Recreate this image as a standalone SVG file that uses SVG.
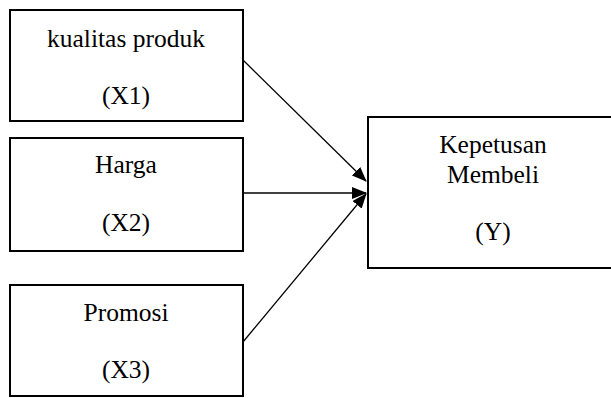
<svg xmlns="http://www.w3.org/2000/svg" width="611" height="398" viewBox="0 0 611 398">
<style>
.box{fill:#fff;stroke:#000;stroke-width:2}
.t{font-family:"Liberation Serif",serif;font-size:25.5px;fill:#000;text-anchor:middle}
.c{stroke:#000;stroke-width:1.3;fill:none}
</style>
<defs>
<marker id="ah" markerWidth="15" markerHeight="12" refX="14" refY="6" orient="auto" markerUnits="userSpaceOnUse">
<path d="M0,0 L15,6 L0,12 Z" fill="#000"/>
</marker>
</defs>
<g id="x1">
<rect class="box" x="10" y="10" width="233" height="111"/>
<text class="t" x="126" y="47">kualitas produk</text>
<text class="t" x="126" y="104">(X1)</text>
</g>
<g id="x2">
<rect class="box" x="10" y="138" width="233" height="113"/>
<text class="t" x="126" y="173">Harga</text>
<text class="t" x="126" y="231">(X2)</text>
</g>
<g id="x3">
<rect class="box" x="10" y="285" width="233" height="111"/>
<text class="t" x="126" y="321">Promosi</text>
<text class="t" x="126" y="378">(X3)</text>
</g>
<g id="y">
<rect class="box" x="368" y="117" width="260" height="151"/>
<text class="t" x="493" y="153">Kepetusan</text>
<text class="t" x="493" y="183">Membeli</text>
<text class="t" x="493" y="240">(Y)</text>
</g>
<g id="connectors">
<line class="c" x1="243" y1="60" x2="366" y2="181" marker-end="url(#ah)"/>
<line class="c" x1="243" y1="193" x2="366" y2="193" marker-end="url(#ah)"/>
<line class="c" x1="243" y1="342" x2="366" y2="194" marker-end="url(#ah)"/>
</g>
</svg>
